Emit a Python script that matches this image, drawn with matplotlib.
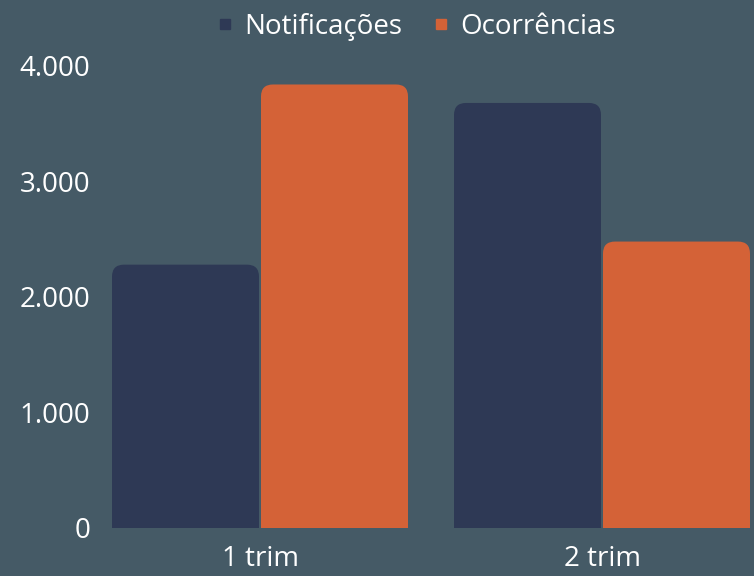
import matplotlib
matplotlib.use("Agg")
import matplotlib.pyplot as plt
from matplotlib.path import Path
from matplotlib.patches import PathPatch
from matplotlib.lines import Line2D
from matplotlib.ticker import FuncFormatter

# ---- dados ----
periodos = ["1 trim", "2 trim"]
notificacoes = [2280, 3680]
ocorrencias = [3840, 2480]
series = ["Notificações", "Ocorrências"]

BG = "#455a66"
NAVY = "#2e3955"
ORANGE = "#d46237"

plt.rcParams["font.family"] = ["Open Sans", "DejaVu Sans"]

W, H = 754, 576
fig = plt.figure(figsize=(W / 100, H / 100), dpi=100)
fig.patch.set_facecolor(BG)

# eixo em pixels: esquerda 100, direita 754, base 528, topo (4000) 66
ax_l, ax_r, ax_b, ax_t = 100, 754, 528, 66
ax = fig.add_axes([ax_l / W, 1 - ax_b / H, (ax_r - ax_l) / W, (ax_b - ax_t) / H])
ax.set_facecolor(BG)

px_per_x = 342.0
x0 = -(260 - ax_l) / px_per_x
x1 = x0 + (ax_r - ax_l) / px_per_x
ax.set_xlim(x0, x1)
ax.set_ylim(0, 4000)
px_per_y = (ax_b - ax_t) / 4000.0

bar_w = 147 / px_per_x
off = 149 / 2 / px_per_x
rad_px = 12
rx = rad_px / px_per_x
ry = rad_px / px_per_y


def rounded_bar(x, h, color):
    l, r = x - bar_w / 2, x + bar_w / 2
    verts = [(l, 0), (l, h - ry), (l, h), (l + rx, h), (r - rx, h),
             (r, h), (r, h - ry), (r, 0), (l, 0)]
    codes = [Path.MOVETO, Path.LINETO, Path.CURVE3, Path.CURVE3, Path.LINETO,
             Path.CURVE3, Path.CURVE3, Path.LINETO, Path.CLOSEPOLY]
    ax.add_patch(PathPatch(Path(verts, codes), facecolor=color, edgecolor="none"))


for i in range(len(periodos)):
    rounded_bar(i - off, notificacoes[i], NAVY)
    rounded_bar(i + off, ocorrencias[i], ORANGE)

for s in ax.spines.values():
    s.set_visible(False)

ax.set_xticks(range(len(periodos)))
ax.set_xticklabels(periodos)
ax.set_yticks([0, 1000, 2000, 3000, 4000])
ax.yaxis.set_major_formatter(FuncFormatter(lambda v, p: f"{int(v):,}".replace(",", ".")))
ax.tick_params(axis="both", length=0, colors="white", labelsize=20)
ax.tick_params(axis="x", pad=12)
ax.tick_params(axis="y", pad=7)

handles = [Line2D([], [], marker="s", linestyle="none", markersize=7, color=NAVY),
           Line2D([], [], marker="s", linestyle="none", markersize=7, color=ORANGE)]
leg = fig.legend(handles, series, loc="center", bbox_to_anchor=(415 / W, 1 - 27 / H),
                 ncol=2, frameon=False, fontsize=20, handletextpad=0.3,
                 columnspacing=1.0, handlelength=0.8)
for t in leg.get_texts():
    t.set_color("white")

fig.savefig("out.png", dpi=100, facecolor=BG)
